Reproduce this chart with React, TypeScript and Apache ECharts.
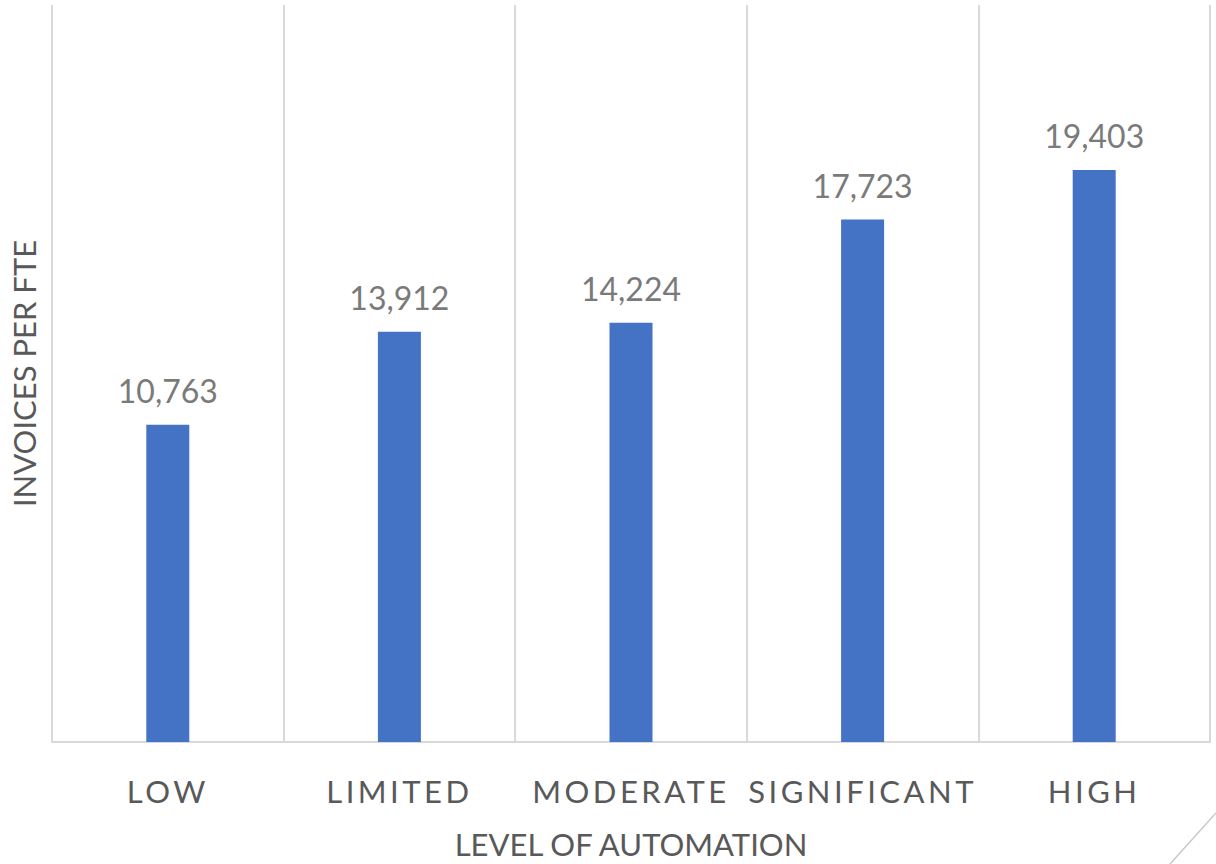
import React, { useEffect, useRef } from "react";
import * as echarts from "echarts";

const categories = ["LOW", "LIMITED", "MODERATE", "SIGNIFICANT", "HIGH"];
const invoicesPerFte = [10763, 13912, 14224, 17723, 19403];
const yMax = 25000;

const FONT = "Lato, 'Open Sans', sans-serif";
const CATEGORY_TRACKING = "3.5";

export default function App() {
  const ref = useRef<HTMLDivElement>(null);

  useEffect(() => {
    const el = ref.current;
    if (!el) return;
    const chart = echarts.init(el, undefined, { renderer: "svg" });

    // Category labels are drawn with wide tracking; ECharts text has no
    // letter-spacing option, so it is applied to the SVG text nodes.
    const trackCategoryLabels = () => {
      el.querySelectorAll("text").forEach((t) => {
        if (categories.includes((t.textContent || "").trim())) {
          t.setAttribute("letter-spacing", CATEGORY_TRACKING);
        }
      });
    };
    chart.on("finished", trackCategoryLabels);

    chart.setOption({
      animation: false,
      backgroundColor: "#ffffff",
      grid: { left: 50, right: 6, top: 5, bottom: 119, containLabel: false },
      xAxis: {
        type: "category",
        data: categories,
        name: "LEVEL OF AUTOMATION",
        nameLocation: "middle",
        nameGap: 86,
        nameTextStyle: { fontFamily: FONT, fontSize: 31, color: "#595959" },
        axisLine: { show: true, lineStyle: { color: "#d9d9d9", width: 2 } },
        axisTick: { show: false },
        axisLabel: {
          interval: 0,
          margin: 33,
          fontFamily: FONT,
          fontSize: 31,
          color: "#595959",
        },
        splitLine: {
          show: true,
          interval: 0,
          lineStyle: { color: "#d9d9d9", width: 2 },
        },
      },
      yAxis: {
        type: "value",
        min: 0,
        max: yMax,
        name: "INVOICES PER FTE",
        nameLocation: "middle",
        nameGap: 13,
        nameTextStyle: { fontFamily: FONT, fontSize: 31, color: "#595959" },
        axisLine: { show: false },
        axisTick: { show: false },
        axisLabel: { show: false },
        splitLine: { show: false },
      },
      series: [
        {
          type: "bar",
          data: invoicesPerFte,
          barWidth: 43,
          itemStyle: { color: "#4472C4" },
          label: {
            show: true,
            position: "top",
            distance: 18,
            fontFamily: FONT,
            fontSize: 32,
            color: "#7a7a7a",
            formatter: (p: any) => Number(p.value).toLocaleString("en-US"),
          },
        },
      ],
      graphic: [
        {
          type: "line",
          shape: { x1: 1216, y1: 813, x2: 1170, y2: 864 },
          style: { stroke: "#c8c8c8", lineWidth: 1.5 },
          silent: true,
        },
      ],
    });
    trackCategoryLabels();
    const raf = requestAnimationFrame(trackCategoryLabels);

    return () => {
      cancelAnimationFrame(raf);
      chart.dispose();
    };
  }, []);

  return (
    <div
      ref={ref}
      style={{ position: "fixed", left: 0, top: 0, width: 1216, height: 864 }}
    />
  );
}
